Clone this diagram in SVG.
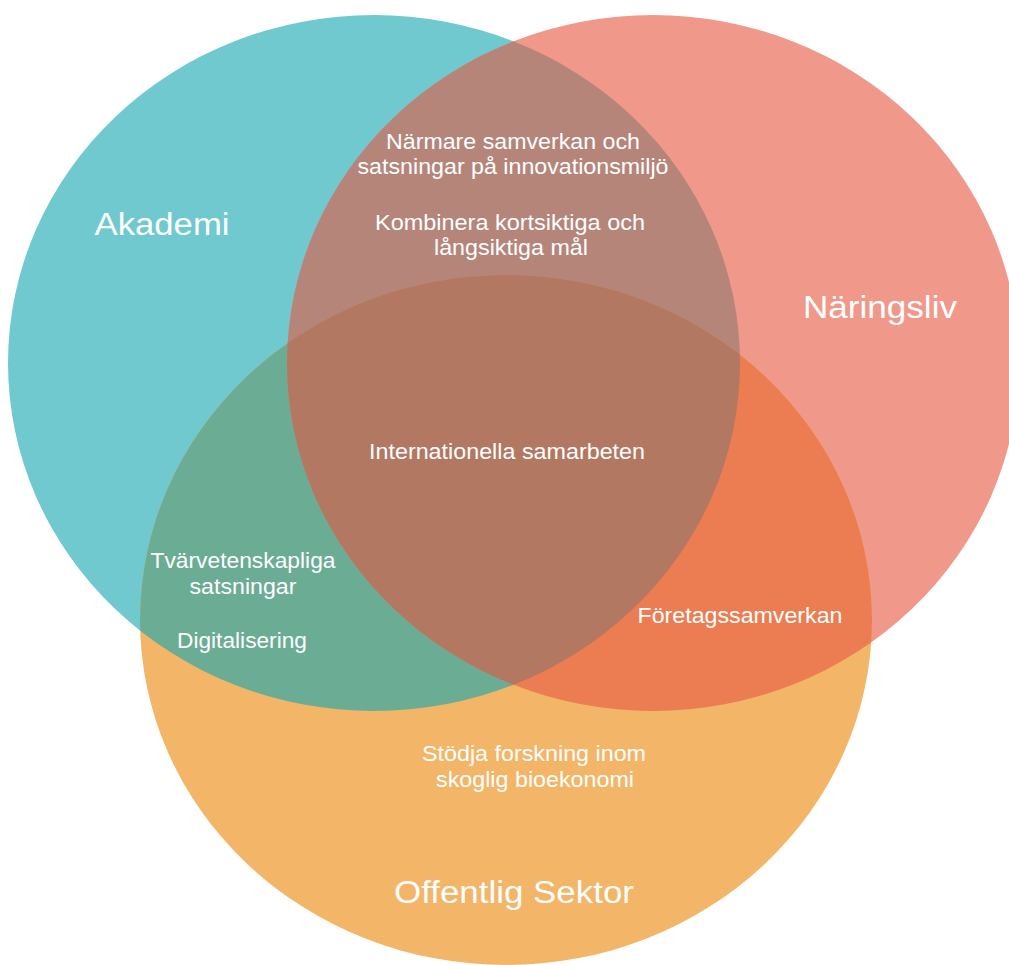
<svg xmlns="http://www.w3.org/2000/svg" width="1009" height="965" viewBox="0 0 1009 965">
  <style>
    text { font-family: "Liberation Sans", Arial, sans-serif; fill: #ffffff; text-anchor: middle; }
    .title { font-size: 31px; }
    .label { font-size: 21.5px; }
  </style>
  <defs>
    <ellipse id="shapeA" cx="374" cy="363" rx="366" ry="348"/>
    <ellipse id="shapeB" cx="653" cy="363" rx="366" ry="348"/>
    <ellipse id="shapeC" cx="506" cy="620" rx="366" ry="345"/>
    <clipPath id="clipA"><use href="#shapeA"/></clipPath>
    <clipPath id="clipB"><use href="#shapeB"/></clipPath>
  </defs>
  <rect width="1009" height="965" fill="#ffffff"/>

  <!-- base sets -->
  <g id="set-akademi"><use href="#shapeA" fill="#6fc9cf"/></g>
  <g id="set-naringsliv"><use href="#shapeB" fill="#f0998b"/></g>
  <g id="set-offentlig"><use href="#shapeC" fill="#f3b567"/></g>

  <!-- pairwise overlaps -->
  <g id="overlap-ab" clip-path="url(#clipA)"><use href="#shapeB" fill="#b5857a"/></g>
  <g id="overlap-ac" clip-path="url(#clipA)"><use href="#shapeC" fill="#6bac94"/></g>
  <g id="overlap-bc" clip-path="url(#clipB)"><use href="#shapeC" fill="#ec7c51"/></g>
  <!-- triple overlap -->
  <g id="overlap-abc" clip-path="url(#clipB)">
    <g clip-path="url(#clipA)"><use href="#shapeC" fill="#b27862"/></g>
  </g>

  <!-- set titles -->
  <g id="title-akademi"><text class="title" x="162" y="235" textLength="135" lengthAdjust="spacingAndGlyphs">Akademi</text></g>
  <g id="title-naringsliv"><text class="title" x="880" y="318" textLength="154" lengthAdjust="spacingAndGlyphs">Näringsliv</text></g>
  <g id="title-offentlig"><text class="title" x="514" y="903" textLength="240" lengthAdjust="spacingAndGlyphs">Offentlig Sektor</text></g>

  <!-- region labels -->
  <g id="label-ab">
    <text class="label" x="513" y="149" textLength="254" lengthAdjust="spacingAndGlyphs">Närmare samverkan och</text>
    <text class="label" x="513" y="174" textLength="311" lengthAdjust="spacingAndGlyphs">satsningar på innovationsmiljö</text>
    <text class="label" x="510" y="230" textLength="270" lengthAdjust="spacingAndGlyphs">Kombinera kortsiktiga och</text>
    <text class="label" x="511" y="255" textLength="154" lengthAdjust="spacingAndGlyphs">långsiktiga mål</text>
  </g>
  <g id="label-abc">
    <text class="label" x="507" y="459" textLength="276" lengthAdjust="spacingAndGlyphs">Internationella samarbeten</text>
  </g>
  <g id="label-ac">
    <text class="label" x="243" y="568" textLength="185" lengthAdjust="spacingAndGlyphs">Tvärvetenskapliga</text>
    <text class="label" x="243" y="594" textLength="107" lengthAdjust="spacingAndGlyphs">satsningar</text>
    <text class="label" x="242" y="648" textLength="130" lengthAdjust="spacingAndGlyphs">Digitalisering</text>
  </g>
  <g id="label-bc">
    <text class="label" x="740" y="623" textLength="205" lengthAdjust="spacingAndGlyphs">Företagssamverkan</text>
  </g>
  <g id="label-c">
    <text class="label" x="534" y="761" textLength="224" lengthAdjust="spacingAndGlyphs">Stödja forskning inom</text>
    <text class="label" x="535" y="787" textLength="198" lengthAdjust="spacingAndGlyphs">skoglig bioekonomi</text>
  </g>
</svg>
